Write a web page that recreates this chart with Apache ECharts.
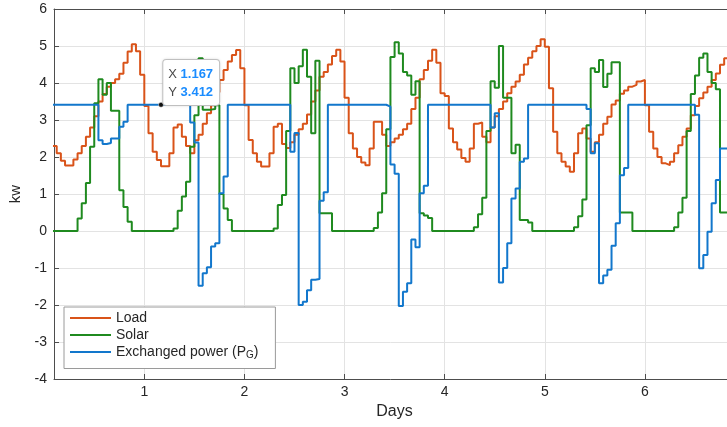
<!DOCTYPE html>
<html>
<head>
<meta charset="utf-8">
<style>
  html, body { margin: 0; padding: 0; background: #fff; }
  #chart { width: 727px; height: 427px; }
</style>
<script src="https://cdn.jsdelivr.net/npm/echarts@6/dist/echarts.min.js"></script>
</head>
<body>
<div id="chart"></div>
<script>
// Hourly samples (kW), first sample at hour 2 of day 0
const startHour = 2;

const load = [
  2.3, 2.1, 1.9, 1.77, 1.77, 1.93, 2.1, 2.3, 2.55, 2.8, 3.1, 3.5, 3.7, 3.9, 4.0, 4.1, 4.25, 4.55, 4.85, 5.05, 4.86, 4.22,
  3.38, 2.64, 2.14, 1.92, 1.75, 1.75, 2.1, 2.8, 2.88, 2.55, 2.3, 2.1, 2.45, 2.6, 2.9, 3.18, 3.4, 3.75, 4.08, 4.35, 4.58, 4.76, 4.89, 4.4,
  3.4, 2.46, 2.1, 1.87, 1.74, 1.74, 2.1, 2.82, 2.9, 2.35, 2.24, 2.4, 2.6, 2.75, 2.9, 3.15, 3.5, 3.8, 4.17, 4.3, 4.5, 4.73, 4.9, 4.58,
  3.6, 2.64, 2.23, 2.0, 1.85, 1.78, 2.23, 2.95, 2.95, 2.6, 2.3, 2.4, 2.5, 2.6, 2.75, 2.9, 3.3, 3.6, 4.1, 4.35, 4.6, 4.9, 4.55, 3.72,
  3.65, 2.77, 2.4, 2.2, 1.97, 1.87, 2.23, 2.9, 2.93, 2.55, 2.4, 2.8, 3.1, 3.3, 3.5, 3.72, 3.9, 4.04, 4.22, 4.5, 4.68, 4.86, 5.0, 5.18,
  4.98, 3.86, 2.68, 2.1, 1.87, 1.74, 1.6, 2.1, 2.64, 2.77, 2.5, 2.14, 2.4, 2.6, 2.9, 3.09, 3.42, 3.53, 3.71, 3.8, 3.9, 3.95, 4.04, 4.08,
  3.4, 2.68, 2.23, 2.0, 1.83, 1.78, 1.87, 2.1, 2.32, 2.55, 2.77, 3.13, 3.38, 3.59, 3.74, 3.9, 4.08, 4.26, 4.49, 4.67, 4.75
];

const solar = [
  0, 0, 0, 0, 0, 0, 0.34, 0.75, 1.3, 2.28, 3.45, 4.1, 3.68, 4.0, 3.25, 3.25, 1.1, 0.65, 0.25, 0, 0, 0,
  0, 0, 0, 0, 0, 0, 0, 0.07, 0.55, 0.93, 1.33, 2.28, 3.13, 4.67, 3.28, 3.28, 3.3, 3.4, 1.0, 0.61, 0.3, 0, 0, 0,
  0, 0, 0, 0, 0, 0, 0, 0.07, 0.7, 0.97, 2.7, 4.4, 4.0, 4.45, 4.9, 4.17, 2.64, 4.6, 0.48, 0.48, 0.48, 0, 0, 0,
  0, 0, 0, 0, 0, 0, 0, 0.08, 0.5, 1.02, 2.75, 4.7, 5.1, 4.8, 4.3, 4.2, 3.68, 4.05, 0.48, 0.42, 0.35, 0, 0, 0,
  0, 0, 0, 0, 0, 0, 0, 0.1, 0.45, 0.9, 2.7, 4.05, 3.87, 5.0, 3.6, 3.6, 2.1, 2.33, 0.3, 0.3, 0.23, 0, 0, 0,
  0, 0, 0, 0, 0, 0, 0, 0.1, 0.4, 0.85, 2.86, 4.4, 4.3, 4.62, 3.89, 4.25, 4.56, 4.56, 0.5, 0.5, 0.5, 0, 0, 0,
  0, 0, 0, 0, 0, 0, 0, 0.1, 0.5, 0.9, 2.7, 3.7, 4.2, 4.68, 4.8, 4.3, 4.0, 3.83, 0.5, 0.5, 0.5
];

const exchanged = [
  3.412, 3.412, 3.412, 3.412, 3.412, 3.412, 3.412, 3.412, 3.412, 3.412, 3.412, 2.45, 2.35, 2.38, 2.5, 2.5, 2.82, 2.95, 3.412, 3.412, 3.412, 3.412,
  3.412, 3.412, 3.412, 3.412, 3.412, 3.412, 3.412, 3.412, 3.412, 3.412, 3.412, 2.93, 2.39, -1.48, -1.14, -0.98, -0.42, -0.33, 1.02, 1.47, 3.412, 3.412, 3.412, 3.412,
  3.412, 3.412, 3.412, 3.412, 3.412, 3.412, 3.412, 3.412, 3.412, 3.412, 3.412, 2.14, 2.65, -2.0, -1.91, -1.6, -1.32, -1.3, 0.82, 1.05, 3.412, 3.412, 3.412, 3.412,
  3.412, 3.412, 3.412, 3.412, 3.412, 3.412, 3.412, 3.412, 3.412, 3.412, 3.36, 1.8, 1.55, -2.03, -1.64, -1.41, -0.23, -0.44, 1.02, 1.22, 3.412, 3.412, 3.412, 3.412,
  3.412, 3.412, 3.412, 3.412, 3.412, 3.412, 3.412, 3.412, 3.412, 3.412, 3.412, 2.8, 3.18, -1.39, -1.0, -0.33, 0.88, 1.15, 1.87, 1.96, 3.412, 3.412, 3.412, 3.412,
  3.412, 3.412, 3.412, 3.412, 3.412, 3.412, 3.412, 3.412, 3.412, 3.412, 3.3, 2.1, 2.37, -1.41, -1.2, -1.05, -0.4, 0.21, 1.51, 1.7, 3.412, 3.412, 3.412, 3.412,
  3.412, 3.412, 3.412, 3.412, 3.412, 3.412, 3.412, 3.412, 3.412, 3.412, 3.412, 3.412, 3.14, -1.01, -0.65, -0.02, 0.75, 1.38, 2.23, 2.23, 2.23
];

const dayTicks = [1, 2, 3, 4, 5, 6];
const seriesNames = ['Load', 'Solar', 'Exchanged power (PG)'];

// Data tip on the exchanged-power trace
const tipX = 1.167;
const tipY = 3.412;

const xMin = 0.098;
const xMax = 6.82;

const font = '"Liberation Sans", Arial, Helvetica, sans-serif';
const axisColor = '#4d4d4d';
const textColor = '#262626';
const gridColor = '#e3e3e3';

function toPoints(values) {
  return values.map((v, i) => [(startHour + i) / 24, v]);
}

const chart = echarts.init(document.getElementById('chart'), null, { renderer: 'canvas' });

const stepSeries = (name, values, color, extra) => Object.assign({
  name: name,
  type: 'line',
  step: 'end',
  data: toPoints(values),
  symbol: 'none',
  clip: true,
  color: color,
  lineStyle: { color: color, width: 2 },
  emphasis: { disabled: true }
}, extra || {});

chart.setOption({
  animation: false,
  textStyle: { fontFamily: font },
  grid: { left: 54, right: 0, top: 9, bottom: 48, containLabel: false },
  legend: {
    data: seriesNames,
    orient: 'vertical',
    left: 64,
    top: 307,
    itemWidth: 41,
    itemHeight: 14,
    itemGap: 3,
    padding: [4, 17, 8, 6],
    backgroundColor: '#ffffff',
    borderColor: '#9a9a9a',
    borderWidth: 1,
    borderRadius: 0,
    selectedMode: false,
    icon: 'path://M0,0L41,0L41,2L0,2Z',
    formatter: function (name) {
      if (name === seriesNames[2]) {
        return '{n|Exchanged power (P}{s|G}{n|)}';
      }
      return '{n|' + name + '}';
    },
    textStyle: {
      fontFamily: font,
      fontSize: 14,
      color: textColor,
      rich: {
        n: { fontSize: 14, color: textColor, fontFamily: font },
        s: { fontSize: 10, color: textColor, fontFamily: font, verticalAlign: 'bottom', padding: [7, 0, 0, 0] }
      }
    }
  },
  xAxis: [
    {
      type: 'value',
      min: xMin,
      max: xMax,
      position: 'bottom',
      name: 'Days',
      nameLocation: 'middle',
      nameGap: 23,
      nameTextStyle: { fontSize: 16, color: textColor, fontFamily: font, padding: [0, 0, 0, 8] },
      axisLine: { show: true, onZero: false, lineStyle: { color: axisColor, width: 1 } },
      axisTick: { show: true, inside: true, length: 5, customValues: dayTicks, lineStyle: { color: axisColor } },
      axisLabel: { show: true, customValues: dayTicks, fontSize: 14, color: textColor, margin: 6, fontFamily: font },
      splitLine: { show: true, lineStyle: { color: gridColor, width: 1 } }
    },
    {
      type: 'value',
      min: xMin,
      max: xMax,
      position: 'top',
      axisLine: { show: true, onZero: false, lineStyle: { color: axisColor, width: 1 } },
      axisTick: { show: true, inside: true, length: 5, customValues: dayTicks, lineStyle: { color: axisColor } },
      axisLabel: { show: false },
      splitLine: { show: false }
    }
  ],
  yAxis: {
    type: 'value',
    min: -4,
    max: 6,
    interval: 1,
    name: 'kw',
    nameLocation: 'middle',
    nameGap: 28,
    nameRotate: 90,
    nameTextStyle: { fontSize: 15, color: textColor, fontFamily: font },
    axisLine: { show: true, onZero: false, lineStyle: { color: axisColor, width: 1 } },
    axisTick: { show: true, inside: true, length: 5, lineStyle: { color: axisColor } },
    axisLabel: { fontSize: 14, color: textColor, margin: 7, fontFamily: font },
    splitLine: { show: true, lineStyle: { color: gridColor, width: 1 } }
  },
  series: [
    stepSeries(seriesNames[0], load, '#D95319'),
    stepSeries(seriesNames[1], solar, '#1F8A1F'),
    stepSeries(seriesNames[2], exchanged, '#1277CC', {
      markPoint: {
        symbol: 'circle',
        symbolSize: 5,
        silent: true,
        itemStyle: { color: '#111111', borderColor: '#ffffff', borderWidth: 0.5 },
        label: {
          show: true,
          position: [5, -42],
          align: 'left',
          verticalAlign: 'top',
          backgroundColor: '#ffffff',
          borderColor: '#c8c8c8',
          borderWidth: 1,
          borderRadius: 3,
          padding: [5, 6, 4, 5],
          shadowColor: 'rgba(0,0,0,0.12)',
          shadowBlur: 3,
          formatter: '{k|X }{v|' + tipX.toFixed(3) + '}\n{k|Y }{v|' + tipY.toFixed(3) + '}',
          rich: {
            k: { fontSize: 13, color: '#4a4a4a', lineHeight: 18, fontFamily: font },
            v: { fontSize: 13, color: '#1a8cff', fontWeight: 'bold', lineHeight: 18, fontFamily: font }
          }
        },
        data: [{ coord: [tipX, tipY] }]
      }
    })
  ]
});
</script>
</body>
</html>
